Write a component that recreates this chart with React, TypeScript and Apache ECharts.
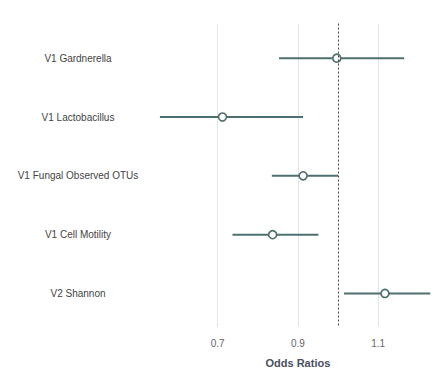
import React, { useEffect, useRef } from "react";
import * as echarts from "echarts";

const categories = [
  "V1 Gardnerella",
  "V1 Lactobacillus",
  "V1 Fungal Observed OTUs",
  "V1 Cell Motility",
  "V2 Shannon",
];
const oddsRatio = [0.997, 0.712, 0.913, 0.837, 1.117];
const lowerCI = [0.853, 0.556, 0.835, 0.737, 1.015];
const upperCI = [1.165, 0.913, 1.0, 0.951, 1.23];
const xTicks = [0.7, 0.9, 1.1];
const referenceLine = 1.0;

const LINE_COLOR = "#4e6f6f";

export default function App() {
  const ref = useRef<HTMLDivElement>(null);
  useEffect(() => {
    if (!ref.current) return;
    const chart = echarts.init(ref.current, undefined, { renderer: "svg" });
    const rowIdx = categories.map((_, i) => i);
    const ciData = rowIdx.map((i) => [lowerCI[i], upperCI[i], i]);
    const pointData = rowIdx.map((i) => [oddsRatio[i], i]);
    chart.setOption({
      animation: false,
      backgroundColor: "#ffffff",
      grid: { left: 157.5, right: 9.7, top: 23.5, bottom: 36.3, containLabel: false },
      xAxis: {
        type: "value",
        min: 0.55,
        max: 1.25,
        name: "Odds Ratios",
        nameLocation: "middle",
        nameGap: 30,
        nameTextStyle: {
          fontFamily: "Liberation Sans, Arial, sans-serif",
          fontSize: 11,
          fontWeight: "bold",
          color: "#4a5060",
        },
        axisLine: { show: false },
        axisTick: { show: false, customValues: xTicks },
        axisLabel: {
          customValues: xTicks,
          margin: 11,
          fontFamily: "Liberation Sans, Arial, sans-serif",
          fontSize: 10,
          color: "#666666",
          formatter: (v: number) => v.toFixed(1),
        },
        splitLine: { show: true, lineStyle: { color: "#e4e4e4", width: 1 } },
      },
      yAxis: {
        type: "value",
        inverse: true,
        min: -0.59,
        max: 4.57,
        axisLine: { show: false },
        axisTick: { show: false, customValues: rowIdx },
        splitLine: { show: false },
        axisLabel: {
          customValues: rowIdx,
          align: "center",
          margin: 79.5,
          fontFamily: "Liberation Sans, Arial, sans-serif",
          fontSize: 10,
          color: "#444444",
          formatter: (v: number) => categories[Math.round(v)] ?? "",
        },
      },
      series: [
        {
          type: "custom",
          data: ciData,
          encode: { x: [0, 1], y: 2 },
          renderItem: (params: any, api: any) => {
            const p1 = api.coord([api.value(0), api.value(2)]);
            const p2 = api.coord([api.value(1), api.value(2)]);
            return {
              type: "line",
              shape: { x1: p1[0], y1: p1[1], x2: p2[0], y2: p2[1] },
              style: { stroke: LINE_COLOR, lineWidth: 2 },
            };
          },
          markLine: {
            silent: true,
            symbol: "none",
            label: { show: false },
            lineStyle: { color: "#444444", type: [2, 2], width: 1 },
            data: [{ xAxis: referenceLine }],
          },
          z: 2,
        },
        {
          type: "scatter",
          data: pointData,
          symbol: "circle",
          symbolSize: 8,
          itemStyle: { color: "#ffffff", borderColor: LINE_COLOR, borderWidth: 1.6, opacity: 1 },
          z: 3,
        },
      ],
    });
    return () => chart.dispose();
  }, []);
  return <div ref={ref} style={{ width: 448, height: 373, position: "absolute", left: 0, top: 0 }} />;
}
